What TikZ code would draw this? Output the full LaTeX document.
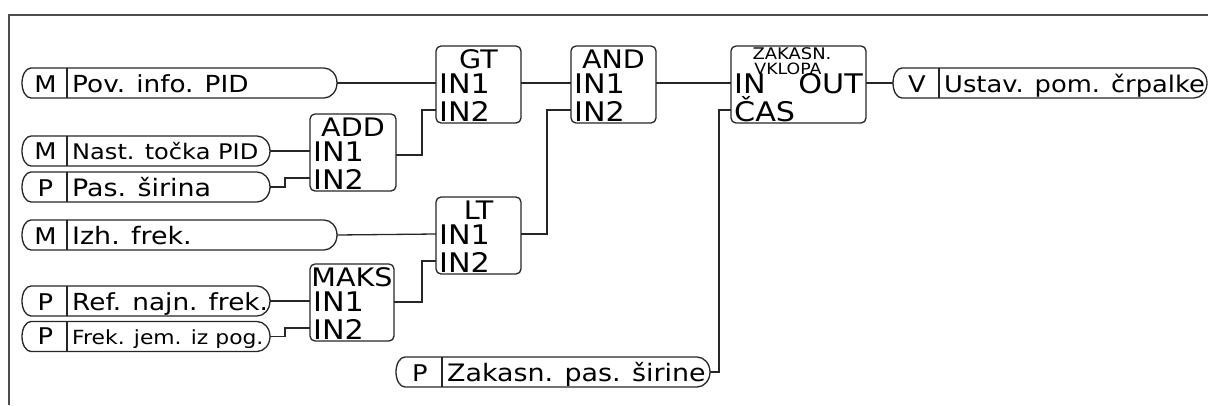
\documentclass[tikz,border=0pt]{standalone}
\usepackage{fontspec}
\setmainfont{DejaVu Sans}[FakeStretch=1.12]
\tikzset{
  ln/.style={line width=1.3pt, draw=black!85},
  frm/.style={line width=2pt, draw=black!70},
  blk/.style={draw=black!85, line width=1.3pt, rounded corners=5pt, minimum height=77pt, inner sep=0pt},
  lbl/.style={inner sep=0pt, anchor=base west},
  ctr/.style={inner sep=0pt, anchor=base},
  rgt/.style={inner sep=0pt, anchor=base east},
}
\newcommand\fs[1]{\fontsize{#1}{#1}\selectfont}
% name, L, div, R, cy, prefix, text, size, baseline offset
\newcommand\mypill[9]{%
  \draw[ln] (#2+9,#5-15) -- (#4-13,#5-15) arc[start angle=-90,end angle=90,x radius=13,y radius=15]
     -- (#2+9,#5+15) arc[start angle=90,end angle=270,x radius=9,y radius=15] -- cycle;
  \draw[ln] (#3,#5-15) -- (#3,#5+15);
  \node[ctr, font=\fs{23}] (#1-pre) at ({(#2+#3)/2+1},#5+#9) {#6};
  \node[lbl, font=\fs{#8}] (#1-txt) at (#3+5,#5+#9) {#7};
  \coordinate (#1) at (#4,#5);
}
% name, L, T, W, title, out offset
\newcommand\mybox[6]{%
  \node[blk, minimum width=#4pt] (#1) at (#2+#4/2,#3+38.5) {};
  \node[ctr, font=\fs{25.5}] (#1-t) at (#2+#4/2,#3+22) {#5};
  \node[lbl, font=\fs{27}] (#1-l1) at (#2+3,#3+47) {IN1};
  \node[lbl, font=\fs{27}] (#1-l2) at (#2+3,#3+75) {IN2};
  \coordinate (#1-in1) at (#2,#3+37);
  \coordinate (#1-in2) at (#2,#3+64);
  \coordinate (#1-out) at (#2+#4,#3+#6);
}
\begin{document}
\begin{tikzpicture}[x=1pt,y=1pt,yscale=-1]
\useasboundingbox (0,0) rectangle (1208,405);
\draw[frm] (1208,15) -- (9,15) -- (9,405);

\mypill{p1}{22}{67}{337}{83}{M}{Pov. info. PID}{23.5}{9}
\mypill{p2}{22}{67}{270}{151}{M}{Nast. točka PID}{21.5}{8}
\mypill{p3}{22}{67}{270}{187}{P}{Pas. širina}{24}{9.5}
\mypill{p4}{22}{67}{337}{235}{M}{Izh. frek.}{24}{9}
\mypill{p5}{22}{67}{270}{301}{P}{Ref. najn. frek.}{23.5}{9}
\mypill{p6}{22}{67}{270}{336.5}{P}{Frek. jem. iz pog.}{19.5}{7.5}
\mypill{p7}{396}{442}{710}{372}{P}{Zakasn. pas. širine}{24}{9.5}
\mypill{p8}{893}{939}{1207}{83}{V}{Ustav. pom. črpalke}{23}{9.5}

\mybox{gt}{436}{46}{85}{GT}{37}
\mybox{and}{571}{46}{85}{AND}{37}
\mybox{add}{310}{114}{86}{ADD}{41}
\mybox{lt}{436}{197}{85}{LT}{37}
\mybox{maks}{310}{264}{84}{MAKS}{38}

% delay block
\node[blk, minimum width=135pt] (zak) at (798.5,84.5) {};
\node[ctr, font=\fs{16}] (zak-t1) at (792,59) {ZAKASN.};
\node[ctr, font=\fs{15.5}] (zak-t2) at (788,74) {VKLOPA};
\node[lbl, font=\fs{27}] (zak-l1) at (734,93) {IN};
\node[rgt, font=\fs{27}] (zak-l2) at (863,93) {OUT};
\node[lbl, font=\fs{27}] (zak-l3) at (734,121) {ČAS};
\coordinate (zak-in) at (731,83);
\coordinate (zak-cas) at (731,110);
\coordinate (zak-out) at (866,83);
\coordinate (p8-in) at (893,83);

% connectors
\draw[ln] (p1) -- (gt-in1);
\draw[ln] (p2) -- (add-in1);
\draw[ln] (p3) -- ([xshift=15pt]p3) |- (add-in2);
\draw[ln] (add-out) -| ([xshift=-14pt]gt-in2) -- (gt-in2);
\draw[ln] (gt-out) -- (and-in1);
\draw[ln] (p4) -- (lt-in1);
\draw[ln] (lt-out) -| ([xshift=-24pt]and-in2) -- (and-in2);
\draw[ln] (p5) -- (maks-in1);
\draw[ln] (p6) -- ([xshift=15pt]p6) |- (maks-in2);
\draw[ln] (maks-out) -| ([xshift=-14pt]lt-in2) -- (lt-in2);
\draw[ln] (and-out) -- (zak-in);
\draw[ln] (p7) -- ([xshift=9pt]p7) |- (zak-cas);
\draw[ln] (zak-out) -- (p8-in);
\end{tikzpicture}
\end{document}
